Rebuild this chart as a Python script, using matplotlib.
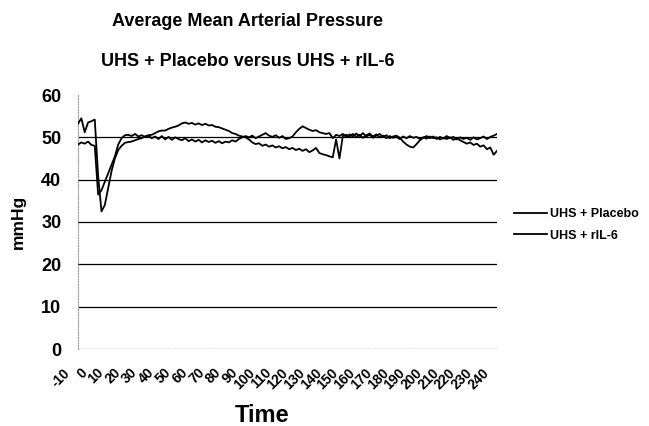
import numpy as np
import matplotlib
matplotlib.use("Agg")
import matplotlib.pyplot as plt
import matplotlib.transforms as mtransforms

plt.rcParams['font.family'] = ['Liberation Sans', 'DejaVu Sans']
plt.rcParams['font.weight'] = 'bold'

title1 = "Average Mean Arterial Pressure"
title2 = "UHS + Placebo versus UHS + rIL-6"
series_names = ["UHS + Placebo", "UHS + rIL-6"]

# time in minutes, every 2 min from -10 to 240
time = np.arange(-10, 241, 2)

placebo = [
    53.2, 54.5, 51.2, 53.5, 53.8, 54.2, 41.0, 32.5, 34.0, 38.0,   # -10..8
    42.0, 45.0, 47.0, 48.0, 48.7, 48.9, 49.0, 49.3, 49.6, 49.8,   # 10..28
    50.2, 50.5, 50.6, 51.0, 51.4, 51.6, 51.6, 52.0, 52.3, 52.5,   # 30..48
    52.8, 53.3, 53.5, 53.2, 53.4, 53.0, 53.3, 52.9, 53.2, 52.8,   # 50..68
    52.9, 52.5, 52.4, 52.1, 51.8, 51.5, 51.0, 50.8, 50.4, 50.2,   # 70..88
    50.0, 49.5, 48.8, 48.4, 48.6, 48.0, 48.3, 47.8, 48.1, 47.6,   # 90..108
    47.9, 47.4, 47.7, 47.2, 47.5, 47.0, 47.3, 46.8, 47.2, 46.5,   # 110..128
    46.9, 47.5, 46.3, 46.0, 45.8, 45.5, 45.3, 49.5, 45.0, 50.3,   # 130..148
    50.6, 50.2, 50.8, 50.1, 50.6, 49.9, 50.5, 50.9, 50.2, 50.7,   # 150..168
    50.0, 50.4, 49.8, 50.3, 49.9, 50.1, 49.6, 50.2, 49.8, 50.3,   # 170..188
    49.9, 50.1, 49.6, 50.0, 49.7, 50.2, 49.8, 50.0, 49.5, 49.9,   # 190..208
    49.6, 50.0, 49.4, 49.8, 49.3, 48.9, 48.5, 48.8, 48.2, 48.5,   # 210..228
    47.8, 48.1, 47.2, 47.6, 45.9, 46.8,                           # 230..240
]

ril6 = [
    48.3, 48.8, 48.5, 49.0, 48.2, 48.0, 36.5, 37.5, 39.5, 41.5,   # -10..8
    43.5, 45.5, 48.3, 49.8, 50.5, 50.6, 50.3, 50.8, 50.2, 50.5,   # 10..28
    50.1, 50.4, 49.8, 50.2, 49.6, 50.3, 49.5, 50.1, 49.4, 50.0,   # 30..48
    49.6, 49.3, 49.8, 49.1, 49.5, 49.0, 49.4, 48.8, 49.3, 48.9,   # 50..68
    49.2, 48.7, 49.1, 48.6, 49.0, 48.8, 49.3, 49.0, 49.6, 50.0,   # 70..88
    50.3, 50.0, 50.4, 49.8, 50.2, 50.6, 51.0, 50.4, 50.1, 50.5,   # 90..108
    49.9, 50.3, 49.6, 49.8, 50.2, 51.2, 52.0, 52.6, 52.2, 51.8,   # 110..128
    51.5, 51.7, 51.2, 51.0, 50.8, 51.0, 49.8, 50.6, 50.3, 50.8,   # 130..148
    50.1, 50.7, 50.2, 50.9, 50.3, 51.0, 50.2, 50.6, 49.9, 50.4,   # 150..168
    50.8, 50.1, 50.5, 49.8, 50.2, 50.4, 49.9, 49.0, 48.3, 47.8,   # 170..188
    47.6, 48.4, 49.3, 49.9, 50.3, 49.8, 50.2, 49.6, 50.1, 49.7,   # 190..208
    50.3, 49.8, 50.1, 49.5, 50.0, 49.6, 49.9, 49.4, 50.0, 49.5,   # 210..228
    49.8, 50.2, 49.6, 50.1, 50.4, 50.8,                           # 230..240
]

xticks = list(range(-10, 241, 10))
xticklabels = [str(v) for v in xticks]
yticks = [0, 10, 20, 30, 40, 50, 60]

fig = plt.figure(figsize=(6.49, 4.26), dpi=100)
ax = fig.add_axes([78/649, 1-349/426, (497-78)/649, (349-95)/426])

for yv in [10, 20, 30, 40, 50]:
    ax.axhline(yv, color='black', lw=0.9, zorder=1)
ax.axhline(0, color='#888888', lw=1.0, ls=(0, (3, 1)), zorder=1)

ax.plot(time, placebo, color='black', lw=1.3, label=series_names[0], zorder=3)
ax.plot(time, ril6, color='black', lw=1.3, label=series_names[1], zorder=3)

ax.set_xlim(-10, 240)
ax.set_ylim(0, 60)
ax.set_yticks(yticks)
ax.set_yticklabels([str(v) for v in yticks], fontsize=13, fontweight='bold')
ax.set_xticks(xticks)
ax.set_xticklabels(xticklabels, rotation=45, ha='right', va='top',
                   rotation_mode='anchor', fontsize=10, fontweight='bold')
ax.tick_params(axis='both', length=0)
ax.tick_params(axis='y', pad=12)
ax.tick_params(axis='x', pad=12)
offset = mtransforms.ScaledTranslation(-15/100, 0, fig.dpi_scale_trans)
for lbl in ax.get_xticklabels():
    lbl.set_transform(lbl.get_transform() + offset)

for s in ['top', 'right', 'bottom']:
    ax.spines[s].set_visible(False)
ax.spines['left'].set_color('#999999')
ax.spines['left'].set_linestyle((0, (1, 1.5)))
ax.spines['left'].set_linewidth(0.8)

ax.set_ylabel("mmHg", fontsize=12.5, fontweight='bold')
ax.yaxis.set_label_coords(-0.125, 0.5)
ax.set_xlabel("Time", fontsize=17, fontweight='bold')
ax.xaxis.set_label_coords((262-78)/419, -0.215)

fig.text(248/649, 1-21/426, title1, ha='center', va='center', fontsize=13, fontweight='bold')
fig.text(248/649, 1-61/426, title2, ha='center', va='center', fontsize=13, fontweight='bold')

leg = fig.legend(loc='center left', bbox_to_anchor=(503/649, 1-225/426), frameon=False,
                 prop={'weight': 'bold', 'size': 9}, handlelength=2.6, handletextpad=0.3,
                 labelspacing=0.75)

fig.savefig("out.png", dpi=100)
